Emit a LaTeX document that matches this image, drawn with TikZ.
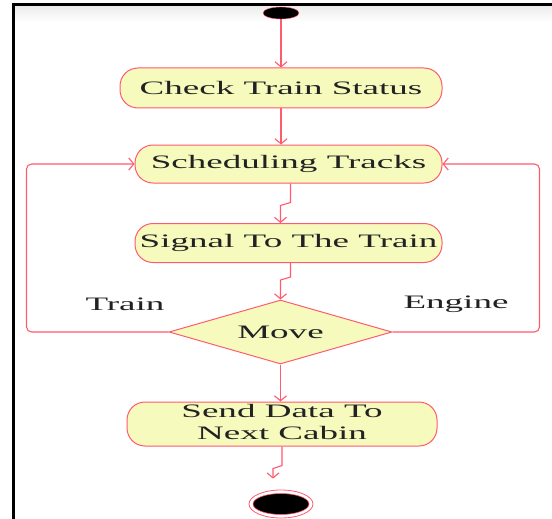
\documentclass[tikz,border=0pt]{standalone}
\usepackage{fontspec}
\setmainfont{Liberation Serif}
\usepackage{graphicx}
\usetikzlibrary{arrows.meta,shapes.geometric}
\definecolor{flowred}{HTML}{FF5A6E}
\definecolor{boxfill}{HTML}{F7FABD}
\definecolor{inkgrey}{HTML}{222222}
\newcommand{\wide}[1]{\scalebox{1.95}[1]{#1}}

\begin{document}
\begin{tikzpicture}[x=1pt,y=-1pt,every node/.style={font=\fontsize{19}{22}\selectfont,text=inkgrey},act/.style={rectangle,rounded corners=18pt,draw=flowred,fill=boxfill,line width=1pt,inner sep=0pt},flow/.style={-{Straight Barb[length=5pt,width=12pt]},flowred,line width=1.1pt}]
  \useasboundingbox (0,0) rectangle (552,519);
  \shade[top color=black!8,bottom color=white] (13,5) rectangle (552,22);
  \draw[line width=3pt] (13,519) -- (13,5) -- (552,5);
  \node[ellipse,fill=black,draw=flowred,minimum width=36pt,minimum height=12pt,inner sep=0pt] (start) at (281,13) {};
  \node[act,minimum width=322pt,minimum height=40pt] (check) at (281,88) {\wide{Check Train Status}};
  \node[act,minimum width=307pt,minimum height=38pt] (sched) at (288.5,164) {\wide{Scheduling Tracks}};
  \node[act,minimum width=307pt,minimum height=39pt] (signal) at (288.5,243) {\wide{Signal To The Train}};
  \node[diamond,aspect=3.5,draw=flowred,fill=boxfill,line width=1pt,minimum width=223pt,minimum height=64pt,inner sep=0pt] (move) at (280.5,332) {\wide{Move}};
  \node[act,minimum width=310pt,minimum height=38pt] (send) at (282,424) {\wide{\begin{tabular}{@{}c@{}}Send Data To\\Next Cabin\end{tabular}}};
  \node[ellipse,draw=flowred,line width=0.8pt,minimum width=64pt,minimum height=28pt,inner sep=0pt] (stop) at (281,504) {};
  \fill[black,draw=flowred,line width=0.6pt] (stop.center) ellipse [x radius=28pt,y radius=10.5pt];
  \node (trainlbl) at (125,304) {\wide{Train}};
  \node (enginelbl) at (456,304) {\wide{Engine}};
  \draw[flow] (start.south) -- (start.south |- check.north);
  \draw[flow] (check.south) -- (check.south |- sched.north);
  \draw[flow] ([xshift=2pt]sched.south) -- ++(0,19) -- ++(-10,3) -- ([xshift=-8pt]signal.north);
  \draw[flow] ([xshift=2pt]signal.south) -- ++(0,14) -- ++(-10,3) -- (move.north);
  \draw[flow] (move.south) -- (move.south |- send.north);
  \draw[flow] (send.south) -- ++(0,19) -- ++(-9,3) -- ([xshift=-8pt,yshift=11pt]stop.north);
  \draw[flow,rounded corners=5pt] (move.west) -- ++(-142,0) |- (sched.west);
  \draw[flow,rounded corners=5pt] (move.east) -- ++(147,0) |- (sched.east);
\end{tikzpicture}
\end{document}
